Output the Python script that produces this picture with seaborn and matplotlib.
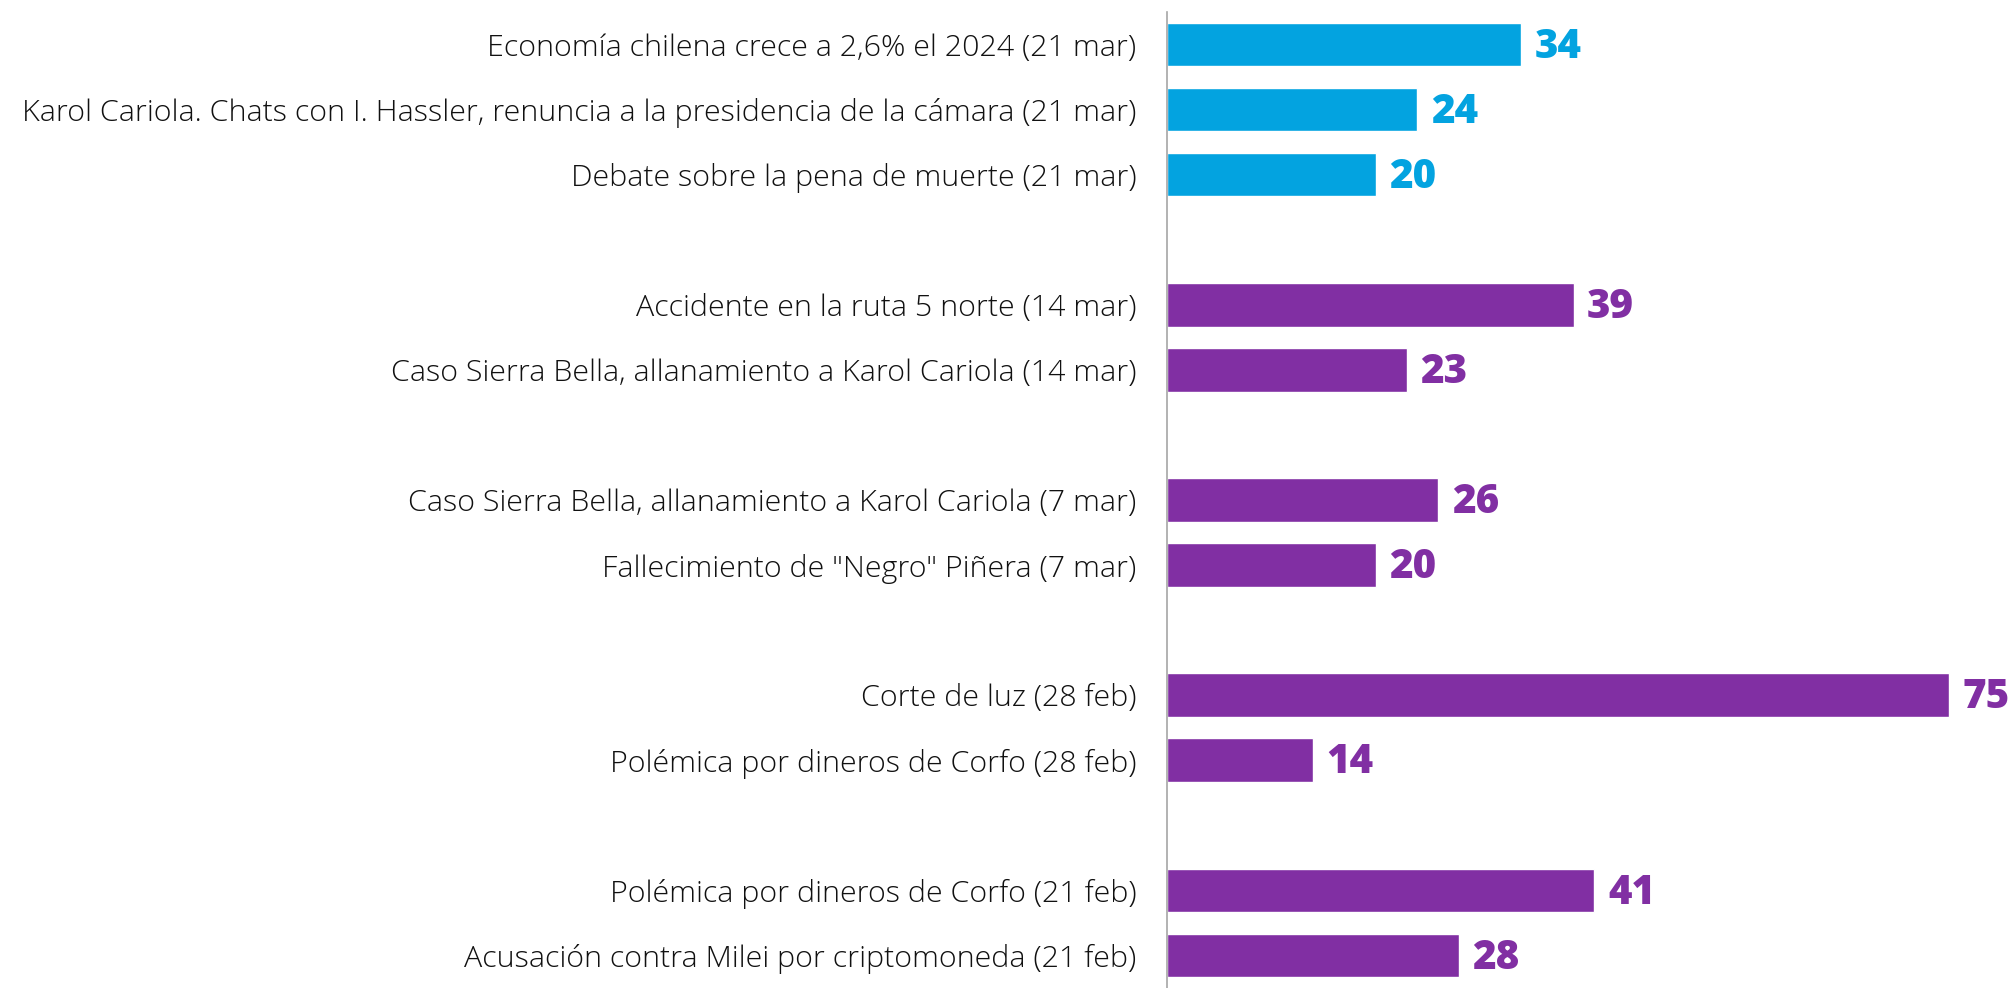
import numpy as np
import pandas as pd
import matplotlib
matplotlib.use("Agg")
import matplotlib.pyplot as plt
import seaborn as sns

# rows from top to bottom; None marks the blank gap between weeks
labels = [
    "Economía chilena crece a 2,6% el 2024 (21 mar)",
    "Karol Cariola. Chats con I. Hassler, renuncia a la presidencia de la cámara (21 mar)",
    "Debate sobre la pena de muerte (21 mar)",
    None,
    "Accidente en la ruta 5 norte (14 mar)",
    "Caso Sierra Bella, allanamiento a Karol Cariola (14 mar)",
    None,
    "Caso Sierra Bella, allanamiento a Karol Cariola (7 mar)",
    "Fallecimiento de \"Negro\" Piñera (7 mar)",
    None,
    "Corte de luz (28 feb)",
    "Polémica por dineros de Corfo (28 feb)",
    None,
    "Polémica por dineros de Corfo (21 feb)",
    "Acusación contra Milei por criptomoneda (21 feb)",
]
values = [34, 24, 20, None, 39, 23, None, 26, 20, None, 75, 14, None, 41, 28]
groups = ["actual", "actual", "actual", None, "prev", "prev", None, "prev", "prev",
          None, "prev", "prev", None, "prev", "prev"]

COLORS = {"actual": "#03A3E0", "prev": "#812FA3"}

keys = [lab if lab is not None else f"gap{i}" for i, lab in enumerate(labels)]
df = pd.DataFrame({"key": keys, "valor": values, "grupo": groups}).dropna()

sns.set_theme(style="white")
plt.rcParams["font.family"] = ["Open Sans", "DejaVu Sans"]

fig = plt.figure(figsize=(20.09, 9.88), dpi=100)
ax = fig.add_axes([1167 / 2009, 0.0, 834 / 2009, 976 / 988])

sns.barplot(data=df, x="valor", y="key", hue="grupo", order=keys,
            palette=COLORS, dodge=False, width=0.67, legend=False,
            saturation=1, ax=ax)

ax.set_xlim(0, 80)
ax.set_ylim(len(keys) - 0.5, -0.5)
ax.set_xlabel("")
ax.set_ylabel("")
ax.set_xticks([])

ax.set_yticks(range(len(keys)))
ax.set_yticklabels([lab if lab is not None else "" for lab in labels],
                   fontsize=21.9, fontweight="light", color="#111111")
ax.tick_params(axis="y", which="major", length=0, pad=22)
ax.set_yticks(np.arange(-0.5, len(keys), 1), minor=True)
ax.tick_params(axis="y", which="minor", length=8, width=1.2, color="#A6A6A6")

for s in ["top", "right", "bottom"]:
    ax.spines[s].set_visible(False)
ax.spines["left"].set_color("#A6A6A6")
ax.spines["left"].set_linewidth(1.2)

for i, (v, g) in enumerate(zip(values, groups)):
    if v is None:
        continue
    ax.text(v + 1.3, i + 0.04, f"{v}", va="center", ha="left", fontsize=29,
            fontweight="heavy", color=COLORS[g])

fig.savefig("out.png", dpi=100)
